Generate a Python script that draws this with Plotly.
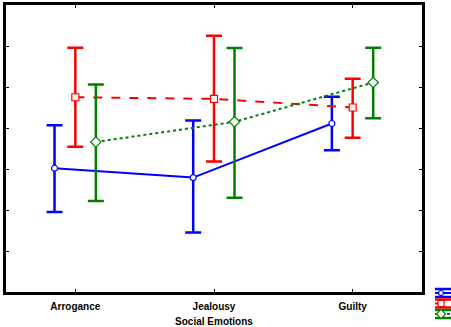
import plotly.graph_objects as go

categories = ["Arrogance", "Jealousy", "Guilty"]
blue_mean = [3.02, 2.79, 4.11]
blue_hi = [4.07, 4.18, 4.76]
blue_lo = [1.95, 1.45, 3.46]
red_mean = [4.75, 4.71, 4.50]
red_hi = [5.96, 6.25, 5.20]
red_lo = [3.54, 3.18, 3.76]
green_mean = [3.66, 4.15, 5.11]
green_hi = [5.06, 5.95, 5.96]
green_lo = [2.22, 2.30, 4.24]
x_title = "Social Emotions"

W, H = 451, 327
offsets = [-0.15, 0.0, 0.148]
colors = ["#0000ff", "#ff0000", "#008000"]
dashes = ["solid", "dash", "dot"]
symbols = ["circle", "square", "diamond"]
sizes = [6, 7, 8]
data = [(blue_mean, blue_hi, blue_lo), (red_mean, red_hi, red_lo), (green_mean, green_hi, green_lo)]

fig = go.Figure()
for i, (m, hi, lo) in enumerate(data):
    xs = [k + offsets[i] for k in range(len(categories))]
    fig.add_trace(go.Scatter(
        x=xs, y=m, mode="lines+markers", showlegend=False,
        line=dict(color=colors[i], width=2, dash=dashes[i]),
        marker=dict(symbol=symbols[i], size=sizes[i], color="white",
                    line=dict(width=1.2, color=colors[i])),
        error_y=dict(type="data", symmetric=False,
                     array=[h - v for h, v in zip(hi, m)],
                     arrayminus=[v - l for v, l in zip(m, lo)],
                     color=colors[i], thickness=2.5, width=8),
    ))

# legend icons in a small side axis (pixel-like coordinates)
leg_centers = [293, 303.5, 314]
for i, c in enumerate(leg_centers):
    for dy in (-4, 4):
        fig.add_trace(go.Scatter(x=[0, 20], y=[c + dy, c + dy], mode="lines",
                                 line=dict(color=colors[i], width=2.5),
                                 xaxis="x2", yaxis="y2", showlegend=False, hoverinfo="skip"))
    fig.add_trace(go.Scatter(x=[0, 20], y=[c, c], mode="lines",
                             line=dict(color=colors[i], width=2, dash=dashes[i]),
                             xaxis="x2", yaxis="y2", showlegend=False, hoverinfo="skip"))
    fig.add_trace(go.Scatter(x=[6], y=[c], mode="markers",
                             marker=dict(symbol=symbols[i], size=sizes[i] - 1,
                                         color="white", line=dict(width=1.2, color=colors[i])),
                             xaxis="x2", yaxis="y2", showlegend=False, hoverinfo="skip"))

fig.update_layout(
    width=W, height=H,
    margin=dict(l=0, r=0, t=0, b=0, autoexpand=False),
    plot_bgcolor="white", paper_bgcolor="white",
    font=dict(family="Liberation Sans, Arial", size=10, color="black"),
    showlegend=False,
    xaxis=dict(domain=[6 / W, 422 / W], range=[-0.5, 2.5], tickmode="array", tickvals=[0, 1, 2],
               ticktext=categories, showgrid=False, zeroline=False, automargin=False,
               showline=True, linecolor="black", linewidth=3, mirror="ticks",
               ticks="inside", ticklen=3, tickcolor="black", ticklabelstandoff=3,
               tickfont=dict(size=10, weight="bold"),
               title=dict(text=x_title, font=dict(size=10, weight="bold"), standoff=8)),
    yaxis=dict(domain=[(H - 292) / H, (H - 5) / H], range=[0, 7], dtick=1,
               showticklabels=False, showgrid=False, automargin=False,
               zeroline=False, showline=True, linecolor="black", linewidth=3,
               mirror="ticks", ticks="inside", ticklen=3, tickcolor="black"),
    xaxis2=dict(domain=[435 / W, 1.0], range=[0, 16], visible=False, anchor="y2"),
    yaxis2=dict(domain=[(H - 324) / H, (H - 284) / H], range=[324, 284], visible=False, anchor="x2"),
)

fig.write_html("out.html")
